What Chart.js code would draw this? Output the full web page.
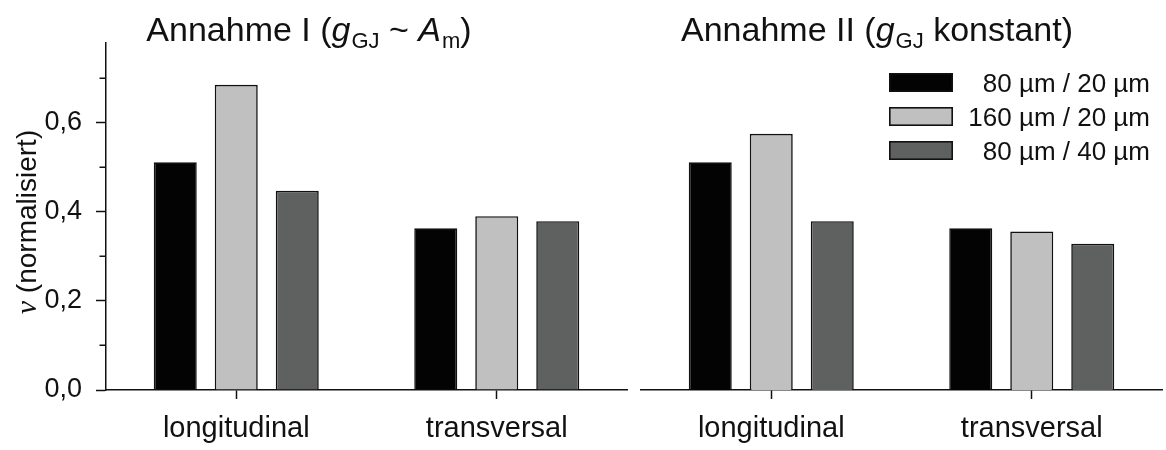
<!DOCTYPE html>
<html>
<head>
<meta charset="utf-8">
<script src="https://cdn.jsdelivr.net/npm/chart.js@4/dist/chart.umd.min.js"></script>
<style>
  html, body { margin: 0; padding: 0; background: #fff; }
  #wrap { position: relative; width: 1166px; height: 450px; }
  #wrap canvas { position: absolute; left: 0; top: 0; }
</style>
</head>
<body>
<div id="wrap">
  <canvas id="panelI" width="1166" height="450"></canvas>
  <canvas id="panelII" width="1166" height="450"></canvas>
</div>
<script>
// Kategorien und Serien
const categories = ['longitudinal', 'transversal'];
const seriesLabels = ['80 µm / 20 µm', '160 µm / 20 µm', '80 µm / 40 µm'];
const seriesColors = ['#030303', '#c0c0c0', '#5f6160'];

// Annahme I (g_GJ ~ A_m)
const annahmeI_80_20 = [0.511, 0.363];
const annahmeI_160_20 = [0.685, 0.390];
const annahmeI_80_40 = [0.447, 0.379];

// Annahme II (g_GJ konstant)
const annahmeII_80_20 = [0.511, 0.363];
const annahmeII_160_20 = [0.575, 0.356];
const annahmeII_80_40 = [0.379, 0.328];

// Achse
const yMax = 0.78;
const yStep = 0.2;
const yMinorTicks = [0.1, 0.3, 0.5, 0.7];

const SANS = "'Liberation Sans', Arial, sans-serif";
const SERIF = "'Liberation Serif', 'Times New Roman', serif";
const INK = '#111111';

function makeDatasets(values) {
  return values.map((vals, i) => ({
    label: seriesLabels[i],
    data: vals,
    backgroundColor: seriesColors[i],
    borderColor: INK,
    borderWidth: 1.6,
    categoryPercentage: 0.7025,
    barPercentage: 0.705
  }));
}

// Text aus mehreren Abschnitten (kursiv, tiefgestellt) zeichnen
function drawRuns(ctx, runs, x, y, align) {
  let w = 0;
  for (const r of runs) { ctx.font = r.font; w += ctx.measureText(r.text).width + (r.kern || 0); }
  let cx = align === 'center' ? x - w / 2 : x;
  ctx.textAlign = 'left';
  ctx.textBaseline = 'alphabetic';
  for (const r of runs) {
    ctx.font = r.font;
    ctx.fillText(r.text, cx, y + (r.dy || 0));
    cx += ctx.measureText(r.text).width + (r.kern || 0);
  }
}

const T = 34, S = 22;
const titleI = [
  { text: 'Annahme I (', font: `${T}px ${SANS}` },
  { text: 'g', font: `italic ${T}px ${SANS}`, kern: 1 },
  { text: 'GJ', font: `${S}px ${SANS}`, dy: 7 },
  { text: ' ~ ', font: `${T}px ${SANS}` },
  { text: 'A', font: `italic ${T}px ${SANS}`, kern: 1 },
  { text: 'm', font: `${S}px ${SANS}`, dy: 7 },
  { text: ')', font: `${T}px ${SANS}` }
];
const titleII = [
  { text: 'Annahme II (', font: `${T}px ${SANS}` },
  { text: 'g', font: `italic ${T}px ${SANS}`, kern: 1 },
  { text: 'GJ', font: `${S}px ${SANS}`, dy: 7 },
  { text: ' konstant)', font: `${T}px ${SANS}` }
];
const yTitle = [
  { text: 'ν', font: `italic 30px ${SERIF}` },
  { text: ' (normalisiert)', font: `28px ${SANS}` }
];

const panelIDecor = {
  id: 'panelIDecor',
  afterDraw(chart) {
    const ctx = chart.ctx;
    const y = chart.scales.y;
    ctx.save();
    // Zwischenstriche
    ctx.strokeStyle = INK;
    ctx.lineWidth = 1.5;
    for (const v of yMinorTicks) {
      const py = Math.round(y.getPixelForValue(v)) + 0.25;
      ctx.beginPath();
      ctx.moveTo(y.right - 6.5, py);
      ctx.lineTo(y.right, py);
      ctx.stroke();
    }
    ctx.fillStyle = INK;
    drawRuns(ctx, titleI, 309, 41, 'center');
    // y-Achsentitel
    ctx.translate(36, 222);
    ctx.rotate(-Math.PI / 2);
    drawRuns(ctx, yTitle, 0, 0, 'center');
    ctx.restore();
  }
};

const panelIIDecor = {
  id: 'panelIIDecor',
  afterDraw(chart) {
    const ctx = chart.ctx;
    ctx.save();
    ctx.fillStyle = INK;
    drawRuns(ctx, titleII, 877, 41, 'center');
    // Legende
    const boxX = 889, boxW = 64, boxH = 19, textRight = 1150;
    const rowTop = [73, 107, 141];
    chart.data.datasets.forEach((ds, i) => {
      const top = rowTop[i];
      ctx.fillStyle = ds.backgroundColor;
      ctx.fillRect(boxX, top, boxW, boxH);
      ctx.strokeStyle = INK;
      ctx.lineWidth = 1.6;
      ctx.strokeRect(boxX + 0.8, top + 0.8, boxW - 1.6, boxH - 1.6);
      ctx.fillStyle = INK;
      ctx.font = `26px ${SANS}`;
      ctx.textAlign = 'right';
      ctx.textBaseline = 'alphabetic';
      ctx.fillText(ds.label, textRight, top + boxH / 2 + 9);
    });
    ctx.restore();
  }
};

function xScale() {
  return {
    grid: { display: true, offset: false, drawOnChartArea: false, drawTicks: true,
            tickLength: 9, tickColor: INK, tickWidth: 1.5 },
    border: { display: true, color: INK, width: 1.5 },
    ticks: { font: { family: SANS, size: 29 }, color: INK, padding: 13, maxRotation: 0, autoSkip: false },
    afterFit: s => { s.height = 60; }
  };
}

const common = {
  responsive: false,
  animation: false,
  devicePixelRatio: 1,
  events: [],
  plugins: { legend: { display: false }, tooltip: { enabled: false }, title: { display: false } }
};

new Chart(document.getElementById('panelI'), {
  type: 'bar',
  data: { labels: categories, datasets: makeDatasets([annahmeI_80_20, annahmeI_160_20, annahmeI_80_40]) },
  options: {
    ...common,
    layout: { padding: { left: 0, right: 539, top: 42.5, bottom: 0 } },
    scales: {
      x: xScale(),
      y: {
        min: 0, max: yMax,
        grid: { drawOnChartArea: false, drawTicks: true, tickLength: 10, tickColor: INK, tickWidth: 1.5 },
        border: { display: true, color: INK, width: 1.5 },
        ticks: {
          stepSize: yStep, includeBounds: false, padding: 14,
          font: { family: SANS, size: 27 }, color: INK,
          callback: v => v.toFixed(1).replace('.', ',')
        },
        afterFit: s => { s.width = 106; }
      }
    }
  },
  plugins: [panelIDecor]
});

new Chart(document.getElementById('panelII'), {
  type: 'bar',
  data: { labels: categories, datasets: makeDatasets([annahmeII_80_20, annahmeII_160_20, annahmeII_80_40]) },
  options: {
    ...common,
    layout: { padding: { left: 641, right: 4, top: 42.5, bottom: 0 } },
    scales: {
      x: xScale(),
      y: { display: false, min: 0, max: yMax }
    }
  },
  plugins: [panelIIDecor]
});
</script>
</body>
</html>
